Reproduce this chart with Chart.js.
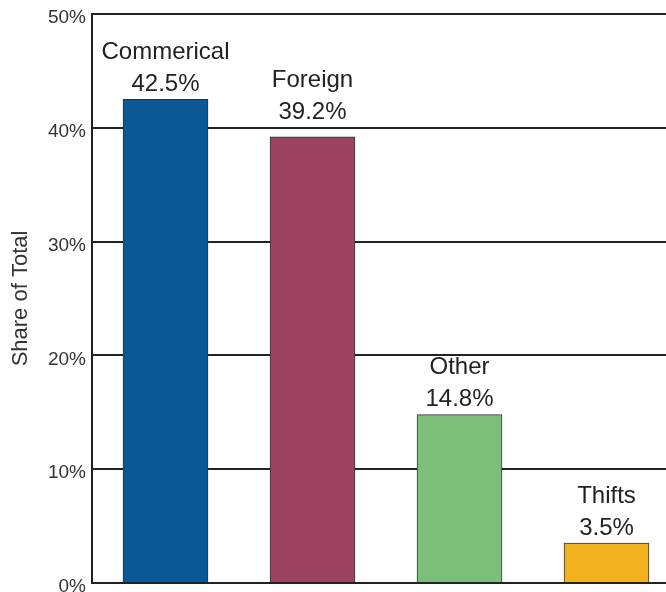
<!DOCTYPE html>
<html>
<head>
<meta charset="utf-8">
<script src="https://cdn.jsdelivr.net/npm/chart.js@4/dist/chart.umd.min.js"></script>
<style>
  html, body { margin: 0; padding: 0; background: #fff; }
  #wrap { width: 666px; height: 592px; overflow: hidden; position: relative; }
  canvas { display: block; }
</style>
</head>
<body>
<div id="wrap"><canvas id="c" width="680" height="592"></canvas></div>
<script>
const categories = ["Commerical", "Foreign", "Other", "Thifts"];
const shares = [42.5, 39.2, 14.8, 3.5];
const barColors = ["#0B5896", "#9B4360", "#7CBF7B", "#F2B11F"];
const yTicks = [0, 10, 20, 30, 40, 50];

const barLabels = {
  id: 'barLabels',
  afterDatasetsDraw(chart) {
    const ctx = chart.ctx;
    const meta = chart.getDatasetMeta(0);
    const yScale = chart.scales.y;
    const gridYs = yTicks.map(v => yScale.getPixelForValue(v));
    ctx.save();
    ctx.fillStyle = '#222';
    ctx.font = '24px "Liberation Sans", Arial, sans-serif';
    ctx.textAlign = 'center';
    ctx.textBaseline = 'middle';
    meta.data.forEach((bar, i) => {
      let vy = bar.y - 15;
      gridYs.forEach(g => {
        if (Math.abs(vy - g) < 12) vy = g - 15;
      });
      ctx.fillText(categories[i], bar.x, vy - 32);
      ctx.fillText(shares[i].toFixed(1) + '%', bar.x, vy);
    });
    ctx.restore();
  }
};

new Chart(document.getElementById('c'), {
  type: 'bar',
  data: {
    labels: categories,
    datasets: [{
      data: shares,
      backgroundColor: barColors,
      borderColor: '#333',
      borderWidth: 1,
      barThickness: 85
    }]
  },
  options: {
    responsive: false,
    animation: false,
    layout: { autoPadding: false, padding: { top: 14, bottom: 9, left: 0, right: 0 } },
    plugins: { legend: { display: false }, tooltip: { enabled: false } },
    scales: {
      x: { display: false },
      y: {
        min: 0, max: 50,
        afterFit(scale) {
          scale.width = 92;
          scale.paddingTop = 0; scale.paddingBottom = 0;
          scale.paddingLeft = 0; scale.paddingRight = 0;
        },
        afterBuildTicks(scale) { scale.ticks = yTicks.map(v => ({ value: v })); },
        ticks: {
          callback: v => v + '%',
          color: '#333',
          padding: 6,
          labelOffset: 4,
          font: { family: '"Liberation Sans", Arial, sans-serif', size: 19 }
        },
        grid: { color: '#222', lineWidth: 2, drawTicks: false },
        border: { display: true, color: '#222', width: 2 },
        title: {
          display: true,
          text: 'Share of Total',
          color: '#333',
          padding: { top: 8, bottom: 0 },
          font: { family: '"Liberation Sans", Arial, sans-serif', size: 22 }
        }
      }
    }
  },
  plugins: [barLabels]
});
</script>
</body>
</html>
